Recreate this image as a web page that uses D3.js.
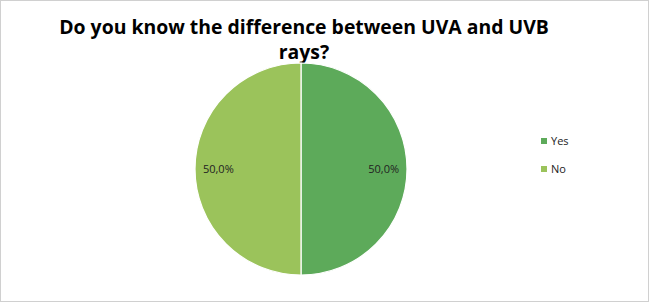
<!DOCTYPE html>
<html><head><meta charset="utf-8">
<script src="https://cdn.jsdelivr.net/npm/d3@7"></script>
<style>body{margin:0;background:#fff}svg{display:block}</style>
</head><body>
<script>
const categories = ["Yes", "No"];
const values = [50.0, 50.0];
const colors = ["#5DAA5A", "#9BC35B"];
const titleLines = ["Do you know the difference between UVA and UVB", "rays?"];

const W = 650, H = 303;
const svg = d3.select("body").append("svg").attr("width", W).attr("height", H);
svg.append("rect").attr("x", 0.5).attr("y", 0.5).attr("width", W - 2).attr("height", H - 2)
  .attr("fill", "#fff").attr("stroke", "#d0d0d0");

const title = svg.append("text").attr("text-anchor", "middle")
  .attr("font-family", "Open Sans, sans-serif").attr("font-weight", "bold")
  .attr("font-size", 19.4).attr("fill", "#000");
titleLines.forEach((t, i) => title.append("tspan").attr("x", 304).attr("y", 34 + i * 25).text(t));

const cx = 301, cy = 169, r = 106;
const pie = d3.pie().sort(null).value(d => d)
  .startAngle(0).endAngle(2 * Math.PI);
const arcs = pie(values);
const arc = d3.arc().innerRadius(0).outerRadius(r);
const g = svg.append("g").attr("transform", `translate(${cx},${cy})`);
g.selectAll("path").data(arcs).enter().append("path")
  .attr("d", arc).attr("fill", (d, i) => colors[i])
  .attr("stroke", "#fff").attr("stroke-width", 1.2);

const fmt = v => v.toFixed(1).replace(".", ",") + "%";
const labelArc = d3.arc().innerRadius(r * 0.78).outerRadius(r * 0.78);
g.selectAll("text").data(arcs).enter().append("text")
  .attr("transform", d => { const c = labelArc.centroid(d); return `translate(${c[0]},${c[1]})`; })
  .attr("text-anchor", "middle").attr("dy", "0.35em")
  .attr("font-family", "Open Sans, sans-serif").attr("font-size", 11).attr("fill", "#222")
  .text(d => fmt(d.value));

const leg = svg.append("g").selectAll("g").data(categories).enter().append("g")
  .attr("transform", (d, i) => `translate(541,${138 + i * 28})`);
leg.append("rect").attr("width", 6).attr("height", 6).attr("fill", (d, i) => colors[i]);
leg.append("text").attr("x", 10).attr("y", 3).attr("dy", "0.35em")
  .attr("font-family", "Open Sans, sans-serif").attr("font-size", 11).attr("fill", "#222")
  .text(d => d);
</script>
</body></html>
